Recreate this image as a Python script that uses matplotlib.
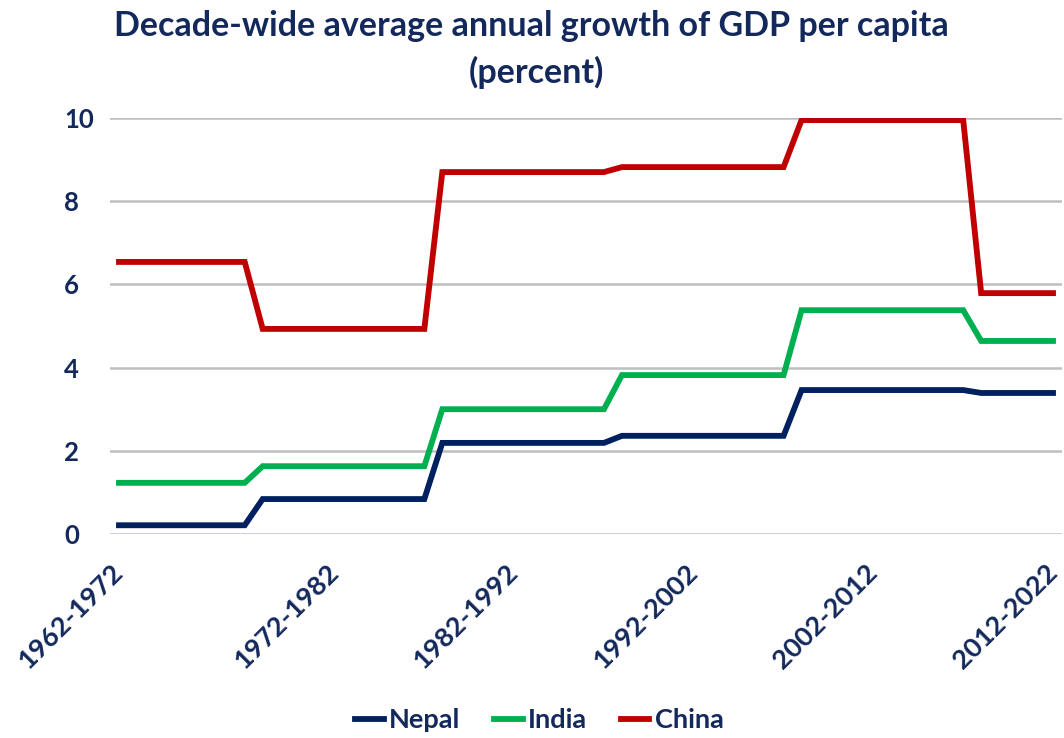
import matplotlib
matplotlib.use("Agg")
import matplotlib.pyplot as plt
import numpy as np

plt.rcParams['font.family'] = ['Lato', 'DejaVu Sans']
plt.rcParams['font.weight'] = 'bold'

# Annual points, each holding the average growth of its decade
nepal = [0.21] * 8 + [0.84] * 10 + [2.19] * 10 + [2.36] * 10 + [3.46] * 10 + [3.39] * 5
india = [1.23] * 8 + [1.63] * 10 + [3.00] * 10 + [3.82] * 10 + [5.38] * 10 + [4.64] * 5
china = [6.54] * 8 + [4.93] * 10 + [8.70] * 10 + [8.82] * 10 + [9.95] * 10 + [5.79] * 5

decade_labels = ["1962-1972", "1972-1982", "1982-1992", "1992-2002", "2002-2012", "2012-2022"]
label_index = [0, 12, 22, 32, 42, 52]
y_ticks = [0, 2, 4, 6, 8, 10]

TEXT = '#14295b'
series = [("Nepal", nepal, '#002060'),
          ("India", india, '#00B050'),
          ("China", china, '#C00000')]

fig = plt.figure(figsize=(10.64, 7.38), dpi=100)
ax = fig.add_axes([110 / 1064, 1 - 534 / 738, 952 / 1064, (534 - 118) / 738])

x = np.arange(len(nepal))
for name, vals, col in series:
    ax.plot(x, vals, color=col, lw=4.2, label=name, solid_joinstyle='miter', zorder=3)

ax.set_xlim(-0.5, len(nepal) - 0.5)
ax.set_ylim(0, 10)
ax.set_yticks(y_ticks)
ax.set_yticklabels([str(t) for t in y_ticks])
ax.grid(axis='y', color='#bfbfbf', lw=1.8, zorder=0)
ax.set_axisbelow(True)
for s in ax.spines.values():
    s.set_visible(False)

ax.set_xticks(label_index)
ax.set_xticklabels(decade_labels, rotation=45, ha='right', va='center',
                   rotation_mode='anchor', fontsize=19.5, color=TEXT, fontweight='bold')
ax.tick_params(axis='x', length=0, pad=25)
ax.tick_params(axis='y', length=0, pad=33, labelsize=18.5, labelcolor=TEXT)
for lab in ax.get_yticklabels():
    lab.set_ha('left')
    lab.set_fontweight('bold')

fig.text(0.499, 1 - 26 / 738, "Decade-wide average annual growth of GDP per capita",
         ha='center', va='center', fontsize=24.5, color=TEXT, fontweight='bold')
fig.text(0.504, 1 - 72 / 738, "(percent)",
         ha='center', va='center', fontsize=24.5, color=TEXT, fontweight='bold')

leg = fig.legend(loc='center', bbox_to_anchor=(0.507, 1 - 720 / 738), ncol=3, frameon=False,
                 fontsize=19.5, handlelength=1.05, handletextpad=0.2, columnspacing=1.25)
for t in leg.get_texts():
    t.set_color(TEXT)
    t.set_fontweight('bold')

fig.savefig("out.png", dpi=100)
